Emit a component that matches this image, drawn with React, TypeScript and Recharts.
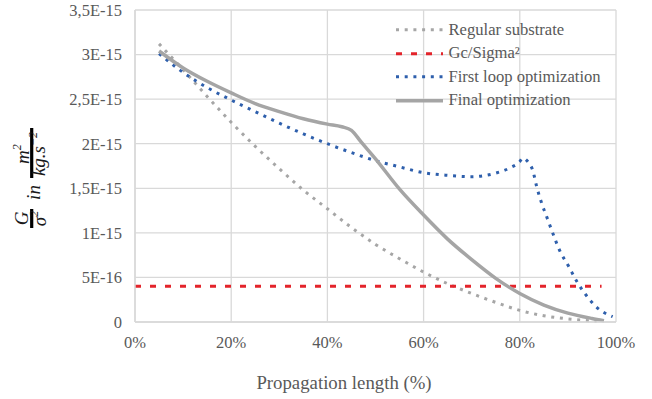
import React from "react";
import { LineChart, Line, XAxis, YAxis, CartesianGrid } from "recharts";

const FONT = "'Liberation Serif', 'Times New Roman', serif";

const xTicks = [0, 20, 40, 60, 80, 100];
const xTickLabels = ["0%", "20%", "40%", "60%", "80%", "100%"];
const yTicks = [0, 0.5, 1, 1.5, 2, 2.5, 3, 3.5];
const yTickLabels = ["0", "5E-16", "1E-15", "1,5E-15", "2E-15", "2,5E-15", "3E-15", "3,5E-15"];

// values in units of 1E-15
const regularX = [5, 10, 15, 20, 25, 30, 35, 40, 45, 50, 55, 60, 65, 70, 75, 80, 85, 90, 95, 96];
const regularY = [3.12, 2.83, 2.53, 2.24, 1.97, 1.72, 1.48, 1.27, 1.06, 0.87, 0.71, 0.56, 0.43, 0.32, 0.22, 0.13, 0.07, 0.035, 0.013, 0.01];

const gcX = [0, 97];
const gcY = [0.4, 0.4];

const firstX = [5, 10, 15, 20, 25, 30, 35, 40, 45, 50, 55, 60, 65, 70, 75, 78, 80, 80.6, 81.8, 82.7, 83.5, 84.5, 85.8, 87, 88.3, 90.1, 91.8, 93.8, 96, 99.3];
const firstY = [3.01, 2.8, 2.63, 2.49, 2.36, 2.23, 2.11, 2.0, 1.9, 1.81, 1.74, 1.675, 1.645, 1.63, 1.67, 1.73, 1.8, 1.84, 1.79, 1.7, 1.52, 1.34, 1.15, 0.976, 0.8, 0.63, 0.46, 0.3, 0.165, 0.06];

const finalX = [5, 10, 15, 20, 25, 30, 35, 40, 43, 45, 47, 50, 55, 60, 65, 70, 75, 80, 85, 90, 95, 97.5];
const finalY = [3.04, 2.85, 2.7, 2.57, 2.45, 2.36, 2.28, 2.22, 2.19, 2.15, 2.02, 1.83, 1.49, 1.2, 0.93, 0.7, 0.49, 0.32, 0.19, 0.1, 0.04, 0.015];

const toData = (xs: number[], ys: number[]) => xs.map((x, i) => ({ x, y: ys[i] }));

const series = [
  { name: "Regular substrate", data: toData(regularX, regularY), color: "#a6a6a6", width: 3, dash: "3 5.7" },
  { name: "Gc/Sigma²", data: toData(gcX, gcY), color: "#e3242b", width: 3, dash: "6 9" },
  { name: "First loop optimization", data: toData(firstX, firstY), color: "#2e5fac", width: 3, dash: "3 5.7" },
  { name: "Final optimization", data: toData(finalX, finalY), color: "#a5a5a5", width: 3.5, dash: undefined as string | undefined },
];

const LegendBox = () => (
  <div style={{ position: "absolute", left: 396, top: 18, fontFamily: FONT, fontSize: 16.6, color: "#595959" }}>
    {series.map((s) => (
      <div key={s.name} style={{ display: "flex", alignItems: "center", height: 23.5, whiteSpace: "nowrap" }}>
        <svg width={47} height={23.5} style={{ marginRight: 5.5, flex: "none" }}>
          <line x1={0} x2={47} y1={11.75} y2={11.75} stroke={s.color} strokeWidth={s.width} strokeDasharray={s.dash} />
        </svg>
        <span>{s.name}</span>
      </div>
    ))}
  </div>
);

const YLabel = () => (
  <g transform="translate(31,178) rotate(-90)" fontFamily={FONT} fontStyle="italic" fill="#1a1a1a">
    <text x={-40.5} y={-3} textAnchor="middle" fontSize={19}>G</text>
    <line x1={-50} x2={-31} y1={0.7} y2={0.7} stroke="#000" strokeWidth={3.2} />
    <text x={-40.5} y={15} textAnchor="middle" fontSize={19}>
      σ<tspan fontSize={12} dy={-8}>2</tspan>
    </text>
    <text x={-14.5} y={9} textAnchor="middle" fontSize={19}>in</text>
    <text x={24} y={-2} textAnchor="middle" fontSize={19}>
      m<tspan fontSize={12} dy={-8}>2</tspan>
    </text>
    <line x1={0} x2={50} y1={0.7} y2={0.7} stroke="#000" strokeWidth={3.2} />
    <text x={24} y={14} textAnchor="middle" fontSize={19}>
      kg.s<tspan fontSize={12} dy={-8}>−2</tspan>
    </text>
  </g>
);

const XLabel = () => (
  <text x={344} y={389} textAnchor="middle" fontFamily={FONT} fontSize={18.8} fill="#595959">
    Propagation length (%)
  </text>
);

export default function App() {
  return (
    <div style={{ position: "absolute", left: 0, top: 0, width: 652, height: 399, background: "#fff" }}>
      <LineChart width={652} height={399} margin={{ top: 10, right: 36, bottom: 0, left: 0 }}>
        <CartesianGrid stroke="#d9d9d9" strokeWidth={1.3} />
        <XAxis
          type="number"
          dataKey="x"
          domain={[0, 100]}
          ticks={xTicks}
          tickFormatter={(v: number) => xTickLabels[xTicks.indexOf(v)]}
          height={77}
          tickLine={false}
          tickSize={0}
          tickMargin={14}
          axisLine={{ stroke: "#d9d9d9", strokeWidth: 1.5 }}
          tick={{ fontFamily: FONT, fontSize: 16.5, fill: "#595959" }}
          label={{ content: XLabel }}
          allowDuplicatedCategory={false}
        />
        <YAxis
          type="number"
          domain={[0, 3.5]}
          ticks={yTicks}
          tickFormatter={(v: number) => yTickLabels[yTicks.indexOf(v)]}
          width={135}
          tickLine={false}
          tickSize={0}
          tickMargin={13}
          axisLine={{ stroke: "#d9d9d9", strokeWidth: 1.5 }}
          tick={{ fontFamily: FONT, fontSize: 16.5, fill: "#595959" }}
          label={{ content: YLabel }}
        />
        {series.map((s) => (
          <Line
            key={s.name}
            name={s.name}
            data={s.data}
            dataKey="y"
            type="monotone"
            stroke={s.color}
            strokeWidth={s.width}
            strokeDasharray={s.dash}
            dot={false}
            activeDot={false}
            isAnimationActive={false}
          />
        ))}
      </LineChart>
      <LegendBox />
    </div>
  );
}
